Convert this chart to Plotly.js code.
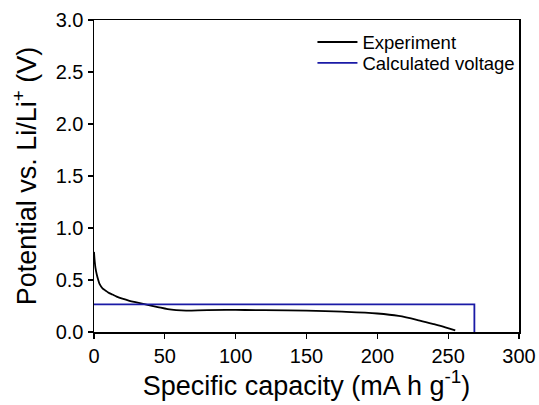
<!DOCTYPE html>
<html>
<head>
<meta charset="utf-8">
<script src="https://cdn.plot.ly/plotly-3.0.1.min.js"></script>
<style>html,body{margin:0;padding:0;background:#fff;}#chart{width:539px;height:405px;}</style>
</head>
<body>
<div id="chart"></div>
<script>
var expCapacity = [0, 0.5, 1, 2, 3, 4, 6, 8, 10, 13, 16, 20, 25, 30, 37, 45, 52, 58, 65, 80, 100, 120, 150, 175, 200, 215, 230, 240, 248, 255];
var expVoltage  = [0.77, 0.68, 0.62, 0.55, 0.50, 0.46, 0.42, 0.40, 0.38, 0.36, 0.34, 0.32, 0.30, 0.285, 0.264, 0.24, 0.22, 0.21, 0.205, 0.21, 0.212, 0.21, 0.205, 0.195, 0.178, 0.155, 0.11, 0.075, 0.045, 0.015];
var calcCapacity = [0, 268.5, 268.5];
var calcVoltage  = [0.265, 0.265, 0];
var xTicks = [0, 50, 100, 150, 200, 250, 300];
var yTicks = [0, 0.5, 1.0, 1.5, 2.0, 2.5, 3.0];
var yTickText = ['0.0', '0.5', '1.0', '1.5', '2.0', '2.5', '3.0'];

var font = 'Liberation Sans, Arial, sans-serif';
var legFont = {family: font, size: 18.5, color: '#000'};
var data = [
  {x: expCapacity, y: expVoltage, mode: 'lines', name: 'Experiment', legend: 'legend', line: {color: '#000000', width: 1.8, shape: 'spline'}},
  {x: calcCapacity, y: calcVoltage, mode: 'lines', name: 'Calculated voltage', legend: 'legend2', line: {color: '#1a1aa6', width: 1.8}}
];
var layout = {
  width: 539, height: 405,
  margin: {l: 94, r: 20, t: 19.5, b: 72.5},
  paper_bgcolor: '#fff', plot_bgcolor: '#fff',
  showlegend: true,
  legend: {x: 0.514, y: 0.928, xanchor: 'left', yanchor: 'middle', bgcolor: 'rgba(0,0,0,0)', font: legFont, itemwidth: 40},
  legend2: {x: 0.514, y: 0.861, xanchor: 'left', yanchor: 'middle', bgcolor: 'rgba(0,0,0,0)', font: legFont, itemwidth: 40},
  xaxis: {
    range: [0, 300], tickvals: xTicks, ticks: 'outside', ticklen: 5, tickwidth: 1.2, tickcolor: '#000',
    showline: true, linecolor: '#000', linewidth: 1.5, mirror: true, showgrid: false, zeroline: false,
    tickfont: {family: font, size: 20, color: '#000'},
    title: {text: 'Specific capacity (mA h g<sup>-1</sup>)', font: {family: font, size: 27, color: '#000'}, standoff: 6}
  },
  yaxis: {
    range: [0, 3.0], tickvals: yTicks, ticktext: yTickText, ticks: 'outside', ticklen: 5, tickwidth: 1.2, tickcolor: '#000',
    showline: true, linecolor: '#000', linewidth: 1.5, mirror: true, showgrid: false, zeroline: false,
    tickfont: {family: font, size: 20, color: '#000'},
    title: {text: 'Potential vs. Li/Li<sup>+</sup> (V)', font: {family: font, size: 27, color: '#000'}, standoff: 11}
  }
};
Plotly.newPlot('chart', data, layout, {staticPlot: true, displayModeBar: false});
</script>
</body>
</html>
